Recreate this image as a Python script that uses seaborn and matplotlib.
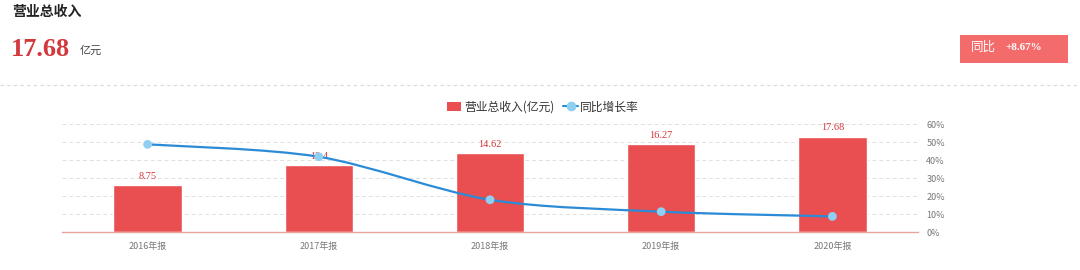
import numpy as np
import pandas as pd
import matplotlib
matplotlib.use("Agg")
import matplotlib.pyplot as plt
from matplotlib.path import Path
from matplotlib.patches import PathPatch, Rectangle
from matplotlib.lines import Line2D
import seaborn as sns

# Revenue (100M CNY) and year-on-year growth (%)
periods = ["2016年报", "2017年报", "2018年报", "2019年报", "2020年报"]
revenue = [8.75, 12.4, 14.62, 16.27, 17.68]
growth = [48.7, 41.8, 17.9, 11.3, 8.67]
revenue_labels = ["8.75", "12.4", "14.62", "16.27", "17.68"]
pct_ticks = [0, 10, 20, 30, 40, 50, 60]
latest_value = "17.68"
latest_growth = "+8.67%"

BAR_RED = "#e94f50"
LABEL_RED = "#d2383c"
LINE_BLUE = "#2b8bd6"
MARKER_BLUE = "#8fd0f2"
GRID = "#e0e0e0"
TEXT_GRAY = "#777777"

sns.set_theme(style="white")
plt.rcParams["font.family"] = ["Noto Sans CJK SC", "DejaVu Sans"]
SERIF = ["Liberation Serif", "DejaVu Serif"]

df = pd.DataFrame({"period": periods, "revenue": revenue, "growth": growth})

fig = plt.figure(figsize=(10.8, 2.7), dpi=100)
fig.patch.set_facecolor("white")

# ---- header -----------------------------------------------------------
fig.text(12 / 1080, 1 - 12 / 270, "营业总收入", fontsize=10, fontweight="bold",
         color="#222222", va="center", ha="left")
fig.text(11 / 1080, 1 - 49 / 270, latest_value, fontsize=19, fontweight="bold",
         color=LABEL_RED, va="center", ha="left", family=SERIF)
fig.text(80 / 1080, 1 - 51 / 270, "亿元", fontsize=8, color="#444444",
         va="center", ha="left")

box = Rectangle((960 / 1080, 1 - 63 / 270), 108 / 1080, 28 / 270,
                transform=fig.transFigure, facecolor="#f36b6b",
                edgecolor="none")
fig.add_artist(box)
fig.text(971 / 1080, 1 - 47 / 270, "同比", fontsize=9, color="white",
         va="center", ha="left")
fig.text(1005 / 1080, 1 - 47 / 270, latest_growth, fontsize=8,
         fontweight="bold", color="white", va="center", ha="left", family=SERIF)

fig.add_artist(Line2D([0.0, 1.0], [1 - 85 / 270, 1 - 85 / 270],
                      transform=fig.transFigure, color="#d8d8d8", lw=0.8,
                      linestyle=(0, (3, 3))))

# ---- chart ------------------------------------------------------------
ax = fig.add_axes([62 / 1080, 38 / 270, 856 / 1080, 108 / 270])
sns.barplot(data=df, x="period", y="revenue", color=BAR_RED, width=0.4,
            saturation=1, ax=ax, zorder=2)
ax.set_ylim(0, 20)
ax.set_xlim(-0.5, len(periods) - 0.5)
ax.set_xlabel("")
ax.set_ylabel("")
ax.set_yticks([])
ax.tick_params(axis="x", labelsize=6.5, colors=TEXT_GRAY, length=0, pad=7)
for s in ["top", "right", "left"]:
    ax.spines[s].set_visible(False)
ax.spines["bottom"].set_color("#e6a59c")
ax.spines["bottom"].set_linewidth(1.0)

for cont in ax.containers:
    ax.bar_label(cont, labels=revenue_labels, padding=3, fontsize=7.5,
                 color=LABEL_RED, family=SERIF)

ax2 = ax.twinx()
ax2.set_ylim(0, 60)
ax2.set_yticks(pct_ticks)
ax2.set_yticklabels([f"{t}%" for t in pct_ticks])
ax2.tick_params(axis="y", labelsize=6.5, colors=TEXT_GRAY, length=0, pad=6)
for s in ["top", "right", "left", "bottom"]:
    ax2.spines[s].set_visible(False)
for t in pct_ticks[1:]:
    ax.axhline(t / 3, color=GRID, lw=0.7, linestyle=(0, (4, 3)), zorder=0)

# smoothed growth curve (cubic Bezier through each point)
xs = np.arange(len(growth), dtype=float)
ys = np.asarray(growth, dtype=float)
verts = [(xs[0], ys[0])]
codes = [Path.MOVETO]
k = 0.15
for i in range(len(xs) - 1):
    p0 = np.array([xs[max(i - 1, 0)], ys[max(i - 1, 0)]])
    p1 = np.array([xs[i], ys[i]])
    p2 = np.array([xs[i + 1], ys[i + 1]])
    p3 = np.array([xs[min(i + 2, len(xs) - 1)], ys[min(i + 2, len(xs) - 1)]])
    c1 = p1 + (p2 - p0) * k
    c2 = p2 - (p3 - p1) * k
    c1[1] = np.clip(c1[1], min(p1[1], p2[1]), max(p1[1], p2[1]))
    c2[1] = np.clip(c2[1], min(p1[1], p2[1]), max(p1[1], p2[1]))
    verts += [tuple(c1), tuple(c2), tuple(p2)]
    codes += [Path.CURVE4, Path.CURVE4, Path.CURVE4]
ax2.add_patch(PathPatch(Path(verts, codes), facecolor="none",
                        edgecolor=LINE_BLUE, lw=1.6, zorder=3))
sns.scatterplot(x=xs, y=ys, ax=ax2, color=MARKER_BLUE, s=40,
                edgecolor="none", zorder=4, legend=False)
ax2.set_xlim(-0.5, len(periods) - 0.5)

# ---- legend -----------------------------------------------------------
handles = [
    Rectangle((0, 0), 1, 1, facecolor=BAR_RED, edgecolor="none"),
    Line2D([0], [0], color=LINE_BLUE, lw=1.5, marker="o",
           markerfacecolor=MARKER_BLUE, markeredgecolor=MARKER_BLUE,
           markersize=6),
]
fig.legend(handles, ["营业总收入(亿元)", "同比增长率"], loc="center",
           bbox_to_anchor=(543 / 1080, 1 - 107 / 270), ncol=2, frameon=False,
           fontsize=8.5, handlelength=1.2, handleheight=0.8, handletextpad=0.2,
           columnspacing=0.8, labelcolor="#333333")

fig.savefig("out.png", dpi=100, facecolor="white")
